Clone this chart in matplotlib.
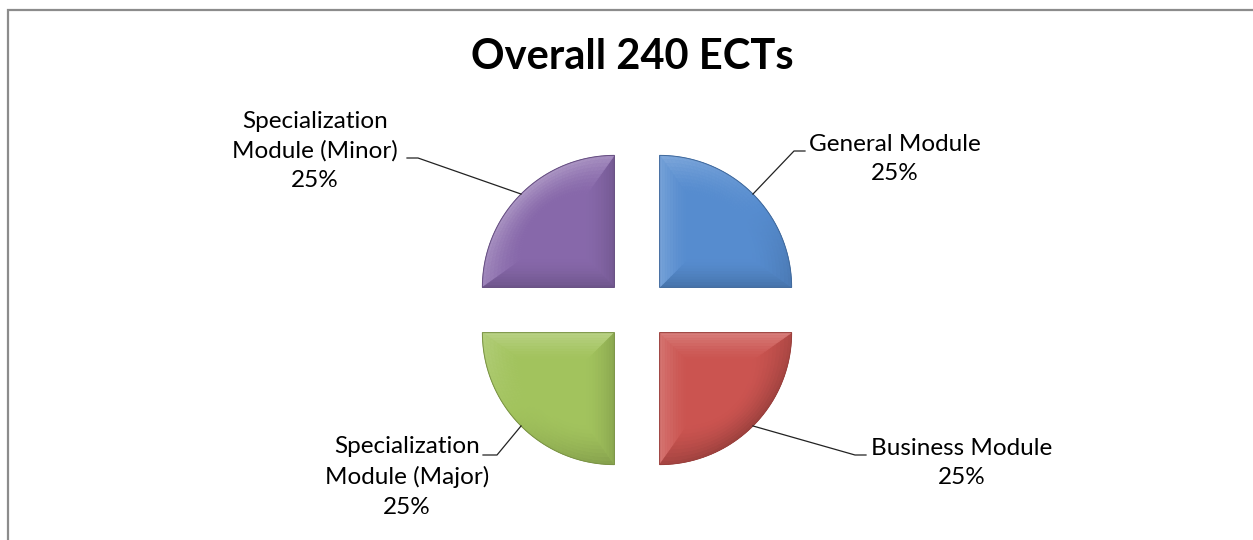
import numpy as np
import matplotlib.pyplot as plt
from matplotlib.patches import Polygon, Rectangle
from matplotlib.colors import to_rgb

# module shares of the 240 ECTS programme
labels = ['General Module', 'Business Module',
          'Specialization\nModule (Major)', 'Specialization\nModule (Minor)']
shares = [25, 25, 25, 25]
colors = ['#568CCF', '#CB5450', '#A2C35D', '#8768AA']
title = 'Overall 240 ECTs'

# label block centres and leader elbows (pixel coords, y up)
label_pos = [(895, 381), (962, 77), (407, 63), (315, 389)]
elbows = [[(794, 389), (805, 389)], [(855, 85), (866, 85)],
          [(497, 85), (483, 85)], [(418, 382), (407, 382)]]

plt.rcParams['font.family'] = ['Lato', 'DejaVu Sans']


def mix(c, other, a):
    c = np.array(to_rgb(c))
    return tuple(c + (np.array(other) - c) * a)


def bevel(ax, w, base):
    # chamfered rim: shrink the wedge toward its incentre and shade each facet
    cx, cy = w.center
    r = w.r
    t = np.radians(np.linspace(w.theta1, w.theta2, 48))
    outer = np.vstack([[cx, cy], np.column_stack([cx + r * np.cos(t), cy + r * np.sin(t)])])
    half = np.radians(w.theta2 - w.theta1) / 2
    mid = np.radians(w.theta1) + half
    s = r / (1 + np.sin(half))
    P = np.array([cx + s * np.cos(mid), cy + s * np.sin(mid)])
    light = np.array([-1.0, 1.3])
    light /= np.linalg.norm(light)
    ks = np.linspace(1.0, 0.5, 11)
    n = len(outer)
    for j in range(len(ks) - 1):
        strength = (1 - j / (len(ks) - 1)) ** 1.5
        a_ring = P + ks[j] * (outer - P)
        b_ring = P + ks[j + 1] * (outer - P)
        for i in range(n):
            i2 = (i + 1) % n
            e = outer[i2] - outer[i]
            nrm = np.array([e[1], -e[0]])
            nrm /= np.linalg.norm(nrm)
            d = nrm @ light
            if d > 0:
                col = mix(base, (1, 1, 1), 0.3 * d * strength)
            else:
                col = mix(base, (0, 0, 0), 0.22 * -d * strength)
            quad = [a_ring[i], a_ring[i2], b_ring[i2], b_ring[i]]
            ax.add_patch(Polygon(quad, closed=True, fc=col, ec=col, lw=0.4, zorder=3))
    ax.add_patch(Polygon(outer, closed=True, fill=False,
                         ec=mix(base, (0, 0, 0), 0.25), lw=0.7, zorder=4))


fig = plt.figure(figsize=(12.53, 5.40), dpi=100)
ax = fig.add_axes([0, 0, 1, 1])

wedges, _ = ax.pie(shares, colors=colors, startangle=90, counterclock=False,
                   explode=[32] * 4, radius=132, center=(637, 230), frame=True,
                   wedgeprops=dict(linewidth=0))
ax.set_xlim(0, 1253)
ax.set_ylim(0, 540)
ax.axis('off')

for w, c, lab, share, pos, elb in zip(wedges, colors, labels, shares, label_pos, elbows):
    bevel(ax, w, c)
    mid = np.radians((w.theta1 + w.theta2) / 2)
    start = (w.center[0] + w.r * np.cos(mid), w.center[1] + w.r * np.sin(mid))
    xs = [start[0]] + [p[0] for p in elb]
    ys = [start[1]] + [p[1] for p in elb]
    ax.plot(xs, ys, color='#222222', lw=0.9, zorder=5)
    ax.text(pos[0], pos[1], f'{lab}\n{share}%', ha='center', va='center',
            fontsize=17.5, linespacing=1.5, color='black', zorder=6)

ax.text(632, 471, title, ha='center', va='baseline', fontsize=30,
        fontweight='bold', color='black')

# chart area border (bottom and right edges run off the image)
ax.add_patch(Rectangle((8, -20), 1300, 550.5, fill=False, ec='#8c8c8c',
                       lw=1.6, clip_on=False))

fig.savefig('out.png', dpi=100)
